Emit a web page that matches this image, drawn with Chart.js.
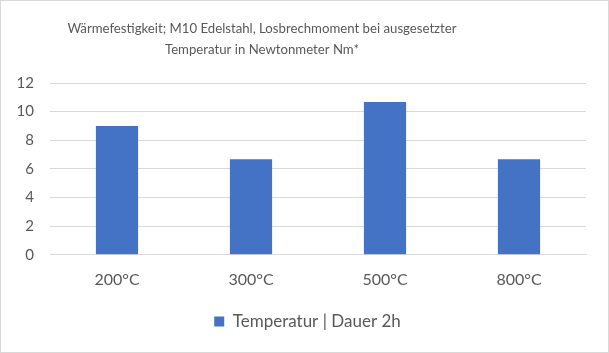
<!DOCTYPE html>
<html>
<head>
<meta charset="utf-8">
<script src="https://cdn.jsdelivr.net/npm/chart.js@4"></script>
<style>
  html, body { margin: 0; padding: 0; background: #fff; }
  #wrap { position: relative; width: 607px; height: 351px; border: 1px solid #d9d9d9; }
</style>
</head>
<body>
<div id="wrap"><canvas id="grafico"></canvas></div>
<script>
// Daten aus dem Diagramm
const kategorien = ['200°C', '300°C', '500°C', '800°C'];
const werte = [9, 6.67, 10.67, 6.67];
const serienName = 'Temperatur | Dauer 2h';
const titelZeilen = ['Wärmefestigkeit; M10 Edelstahl, Losbrechmoment bei ausgesetzter', 'Temperatur in Newtonmeter Nm*'];

const grau = '#595959';
const schrift = 'Lato, "Open Sans", sans-serif';

// Titel etwas links von der Mitte, wie im Original
const titelPlugin = {
  id: 'titel',
  afterLayout(chart) {
    // Legende ein Stück nach rechts schieben
    chart.legend.left += 14;
    chart.legend.right += 14;
  },
  afterDraw(chart) {
    const ctx = chart.ctx;
    ctx.save();
    ctx.fillStyle = grau;
    ctx.font = '13.2px ' + schrift;
    ctx.textAlign = 'center';
    ctx.textBaseline = 'middle';
    titelZeilen.forEach((z, i) => ctx.fillText(z, 261, 28 + i * 20.5));
    ctx.restore();
  }
};

new Chart(document.getElementById('grafico').getContext('2d'), {
  type: 'bar',
  data: {
    labels: kategorien,
    datasets: [{
      label: serienName,
      data: werte,
      backgroundColor: '#4472C4',
      borderColor: '#4472C4',
      borderWidth: 0,
      categoryPercentage: 1,
      barPercentage: 0.315
    }]
  },
  options: {
    responsive: true,
    maintainAspectRatio: false,
    animation: false,
    layout: { padding: { left: 0, right: 22, top: 82, bottom: 12 } },
    scales: {
      x: {
        grid: { display: false, drawTicks: false },
        border: { color: '#d9d9d9' },
        ticks: { color: grau, font: { family: schrift, size: 16 }, padding: 15 }
      },
      y: {
        min: 0,
        max: 12,
        afterFit: s => { s.width = 49; },
        grid: { color: '#d9d9d9', drawTicks: false },
        border: { display: false },
        ticks: { stepSize: 2, color: grau, font: { family: schrift, size: 15 }, padding: 16 }
      }
    },
    plugins: {
      title: { display: false },
      legend: {
        position: 'bottom',
        labels: {
          color: grau,
          font: { family: schrift, size: 17 },
          boxWidth: 10,
          boxHeight: 10,
          padding: 9
        }
      },
      tooltip: { enabled: false }
    }
  },
  plugins: [titelPlugin]
});
</script>
</body>
</html>
